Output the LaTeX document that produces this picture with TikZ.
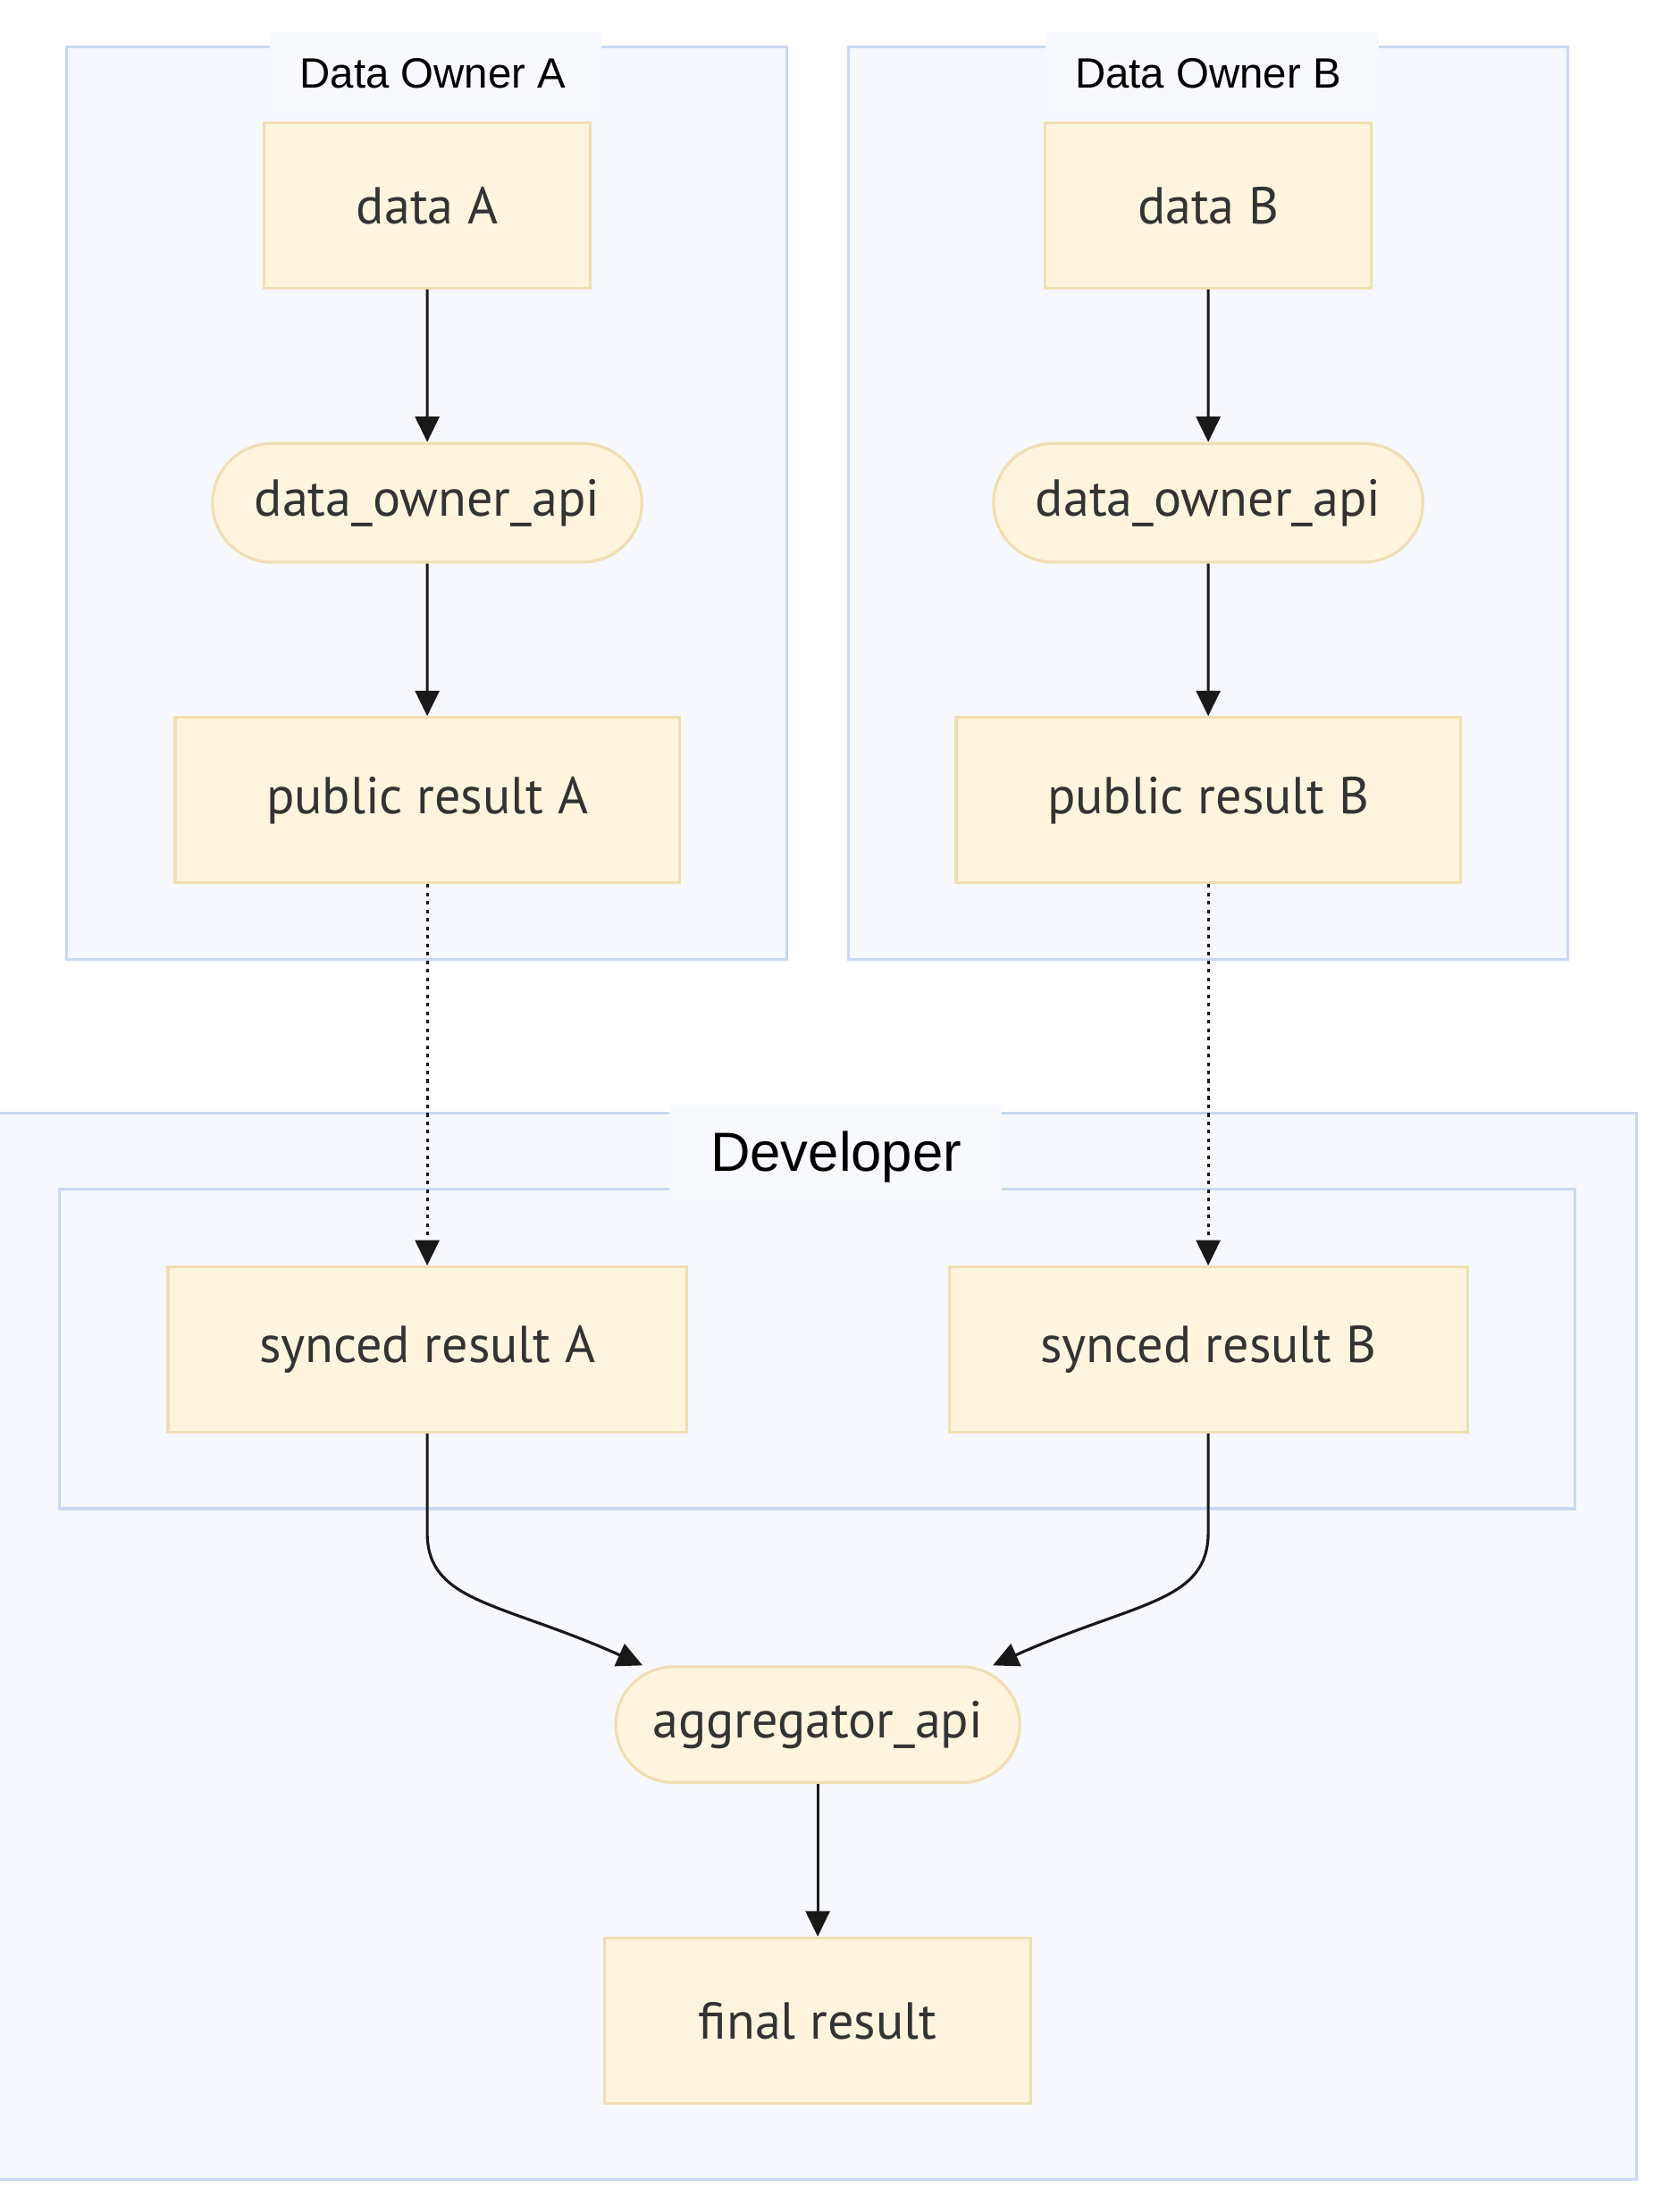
\documentclass[tikz,border=0pt]{standalone}
\usepackage{fontspec}
\setmainfont{PT Sans}
\newfontfamily\titlefont{Liberation Sans}
\usetikzlibrary{arrows.meta,shapes.misc,calc}
\definecolor{nodefill}{HTML}{FFF4DD}
\definecolor{nodeline}{HTML}{F0DDB2}
\definecolor{grpfill}{HTML}{F6F8FD}
\definecolor{grpline}{HTML}{C9D7F3}
\definecolor{titlebg}{HTML}{F7F9FE}
\definecolor{txt}{HTML}{333333}
\tikzset{
  box/.style={draw=nodeline, fill=nodefill, line width=1pt, text=txt,
    font=\fontsize{18.4}{21}\selectfont, inner sep=0pt},
  stadium/.style={box, rounded rectangle, rounded rectangle arc length=180},
  grp/.style={draw=grpline, fill=grpfill, line width=1pt},
  ttlbg/.style={fill=titlebg, draw=none},
  ttl/.style={text=black, inner sep=0pt},
  flow/.style={draw=black!90, line width=1pt, -{Triangle[length=9pt,width=8.5pt]}},
  sync/.style={flow, dash pattern=on 1.3pt off 1.7pt},
}
\begin{document}
\begin{tikzpicture}[x=0.5pt,y=-0.5pt]
\useasboundingbox (0,0) rectangle (1183,1566);
\fill[white] (0,0) rectangle (1183,1566);
% groups
\path[grp] (47,33) rectangle (557,679);
\path[grp] (601,33) rectangle (1110,679);
\path[grp] (-5,788) rectangle (1159,1543);
\path[grp] (42,842) rectangle (1115,1068);
% titles
\path[ttlbg] (191,23) rectangle (426,83);
\node[ttl, font=\titlefont\fontsize{15}{18}\selectfont] (tA) at (306.5,52) {Data Owner A};
\path[ttlbg] (740,23) rectangle (976,83);
\node[ttl, font=\titlefont\fontsize{15}{18}\selectfont] (tB) at (855.5,52) {Data Owner B};
\path[ttlbg] (474,782) rectangle (709,853);
\node[ttl, font=\titlefont\fontsize{19.5}{22}\selectfont] (tD) at (592,819) {Developer};
% nodes (sizes in pt = half the picture units)
\node[box, minimum width=115.5pt, minimum height=58.5pt] (dA) at (302.5,145.5) {data A};
\node[stadium, minimum width=152pt, minimum height=42pt] (apiA) at (302.5,356) {data\_owner\_api};
\node[box, minimum width=178.5pt, minimum height=58.5pt] (pA) at (302.5,566.5) {public result A};
\node[box, minimum width=115.5pt, minimum height=58.5pt] (dB) at (855.5,145.5) {data B};
\node[stadium, minimum width=152pt, minimum height=42pt] (apiB) at (855.5,356) {data\_owner\_api};
\node[box, minimum width=178.5pt, minimum height=58.5pt] (pB) at (855.5,566.5) {public result B};
\node[box, minimum width=183.5pt, minimum height=58.5pt] (sA) at (302.5,955.5) {synced result A};
\node[box, minimum width=183.5pt, minimum height=58.5pt] (sB) at (855.5,955.5) {synced result B};
\node[stadium, minimum width=143pt, minimum height=41pt] (agg) at (579,1221) {aggregator\_api};
\node[box, minimum width=151pt, minimum height=58.5pt] (fin) at (579,1430.5) {final result};
% connectors
\draw[flow] (dA) -- (apiA);
\draw[flow] (apiA) -- (pA);
\draw[flow] (dB) -- (apiB);
\draw[flow] (apiB) -- (pB);
\draw[sync] (pA) -- (sA);
\draw[sync] (pB) -- (sB);
\coordinate (inA) at ($(agg.west)+(20,-42)$);
\coordinate (inB) at ($(agg.east)+(-20,-42)$);
\draw[flow] (sA.south) -- ++(0,70) .. controls +(0,50) and +(-100,-45) .. (inA);
\draw[flow] (sB.south) -- ++(0,70) .. controls +(0,50) and +(100,-45) .. (inB);
\draw[flow] (agg) -- (fin);
\end{tikzpicture}
\end{document}
